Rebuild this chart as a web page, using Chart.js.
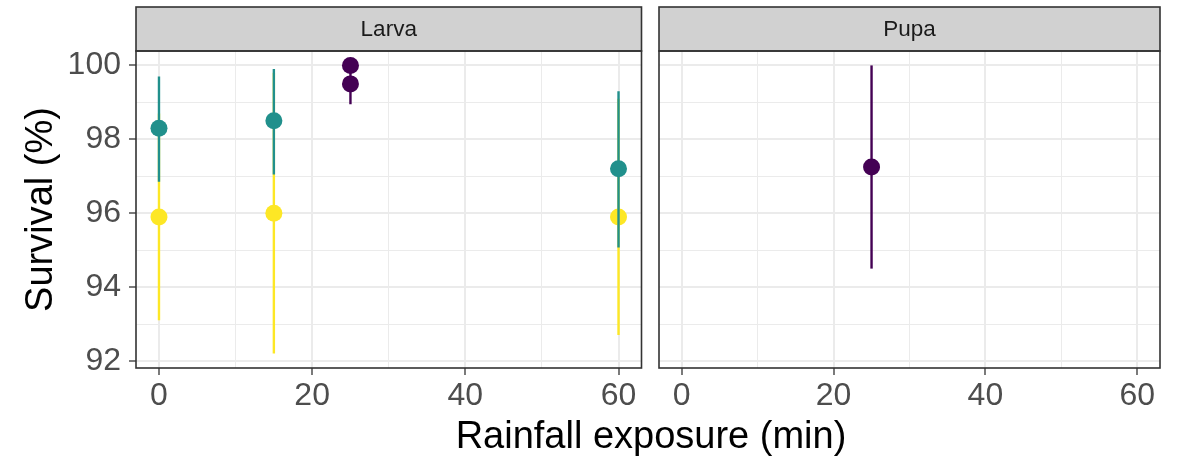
<!DOCTYPE html>
<html>
<head>
<meta charset="utf-8">
<script src="https://cdn.jsdelivr.net/npm/chart.js@4"></script>
<style>
  body{margin:0;background:#fff;width:1186px;height:458px;position:relative;overflow:hidden;font-family:"Liberation Sans",Arial,sans-serif;}
  #larvaBox{position:absolute;left:0;top:0;width:650px;height:458px;}
  #pupaBox{position:absolute;left:650px;top:0;width:536px;height:458px;}
  #xTitle{position:absolute;left:0;width:1302px;top:413px;text-align:center;font-size:38px;color:#000;line-height:44px;}
</style>
</head>
<body>
<div id="larvaBox"><canvas id="larvaChart" width="650" height="458"></canvas></div>
<div id="pupaBox"><canvas id="pupaChart" width="536" height="458"></canvas></div>
<div id="xTitle">Rainfall exposure (min)</div>
<script>
// facet labels
const panels = ['Larva', 'Pupa'];
const xTicks = [0, 20, 40, 60];
const yTicks = [92, 94, 96, 98, 100];

// Larva - yellow group
const larvaYellowX = [0, 15, 60];
const larvaYellowY = [95.9, 96.0, 95.9];
const larvaYellowLo = [93.1, 92.2, 92.7];
const larvaYellowHi = [98.7, 99.8, 99.1];
// Larva - teal group
const larvaTealX = [0, 15, 60];
const larvaTealY = [98.3, 98.5, 97.2];
const larvaTealLo = [96.85, 97.05, 95.07];
const larvaTealHi = [99.7, 99.9, 99.3];
// Larva - purple group
const larvaPurpleX = [25, 25];
const larvaPurpleY = [100.0, 99.5];
const larvaPurpleLo = [100.0, 98.95];
const larvaPurpleHi = [100.0, 100.0];
// Pupa - purple group
const pupaPurpleX = [25];
const pupaPurpleY = [97.25];
const pupaPurpleLo = [94.5];
const pupaPurpleHi = [100.0];

const COL = {yellow:'#FDE725', teal:'#21908C', purple:'#440154'};
const FONT = '"Liberation Sans", Arial, sans-serif';

function rangeData(xs, lo, hi){
  const out=[];
  xs.forEach((x,i)=>{out.push({x,y:lo[i]});out.push({x,y:hi[i]});out.push({x,y:null});});
  return out;
}
function pointData(xs, ys){ return xs.map((x,i)=>({x,y:ys[i]})); }

function group(xs, ys, lo, hi, color, ord){
  return [
    {data:rangeData(xs,lo,hi),showLine:true,borderColor:color,borderWidth:2.4,pointRadius:0,spanGaps:false,order:ord+1},
    {data:pointData(xs,ys),showLine:false,backgroundColor:color,borderWidth:0,pointRadius:8.5,order:ord}
  ];
}

// draws strip + panel border
const facetPlugin = {
  id:'facet',
  afterDatasetsDraw(chart, args, opts){
    const {ctx, chartArea:a} = chart;
    ctx.save();
    ctx.fillStyle='#d1d1d1';
    ctx.fillRect(a.left, 7, a.right-a.left, a.top-7);
    ctx.strokeStyle='#333333';
    ctx.lineWidth=1.6;
    ctx.strokeRect(a.left, 7, a.right-a.left, a.top-7);
    ctx.strokeRect(a.left, a.top, a.right-a.left, a.bottom-a.top);
    ctx.fillStyle='#1a1a1a';
    ctx.font='22.5px '+FONT;
    ctx.textAlign='center';
    ctx.textBaseline='middle';
    ctx.fillText(opts.label, (a.left+a.right)/2, (7+a.top)/2+1);
    ctx.restore();
  }
};

function makeOptions(label, isLeft){
  const isMajorX = v => xTicks.includes(v);
  const isMajorY = v => yTicks.includes(v);
  return {
    responsive:false, animation:false, devicePixelRatio:1, events:[],
    layout:{padding:{top:51,bottom:0,left:isLeft?0:9,right:isLeft?6:26}},
    plugins:{legend:{display:false},tooltip:{enabled:false},facet:{label}},
    scales:{
      x:{type:'linear',min:-3,max:63,
        afterFit(s){s.height=90;},
        border:{display:false},
        grid:{color:'#ebebeb',lineWidth:c=>isMajorX(c.tick.value)?2:1,
          tickLength:7,tickColor:c=>isMajorX(c.tick.value)?'#333333':'rgba(0,0,0,0)',tickWidth:1.3},
        ticks:{stepSize:10,includeBounds:false,autoSkip:false,maxRotation:0,padding:2,
          color:'#4d4d4d',font:{family:FONT,size:32},
          callback:v=>isMajorX(v)?String(v):''}
      },
      y:{type:'linear',min:91.81,max:100.39,
        afterFit(s){s.width=isLeft?136:0;},
        border:{display:false},
        grid:{color:'#ebebeb',lineWidth:c=>isMajorY(c.tick.value)?2:1,drawTicks:isLeft,
          tickLength:7,tickColor:c=>(isLeft&&isMajorY(c.tick.value))?'#333333':'rgba(0,0,0,0)',tickWidth:1.3},
        ticks:{display:isLeft,stepSize:1,includeBounds:false,autoSkip:false,padding:8,
          color:'#4d4d4d',font:{family:FONT,size:32},
          callback:v=>isMajorY(v)?String(v):''},
        title:{display:isLeft,text:'Survival (%)',color:'#000',font:{family:FONT,size:38},padding:{top:19}}
      }
    }
  };
}

new Chart(document.getElementById('larvaChart'),{
  type:'scatter',
  data:{datasets:[
    ...group(larvaYellowX,larvaYellowY,larvaYellowLo,larvaYellowHi,COL.yellow,5),
    ...group(larvaTealX,larvaTealY,larvaTealLo,larvaTealHi,COL.teal,3),
    ...group(larvaPurpleX,larvaPurpleY,larvaPurpleLo,larvaPurpleHi,COL.purple,1)
  ]},
  options:makeOptions(panels[0], true),
  plugins:[facetPlugin]
});

new Chart(document.getElementById('pupaChart'),{
  type:'scatter',
  data:{datasets:[
    ...group(pupaPurpleX,pupaPurpleY,pupaPurpleLo,pupaPurpleHi,COL.purple,1)
  ]},
  options:makeOptions(panels[1], false),
  plugins:[facetPlugin]
});
</script>
</body>
</html>
